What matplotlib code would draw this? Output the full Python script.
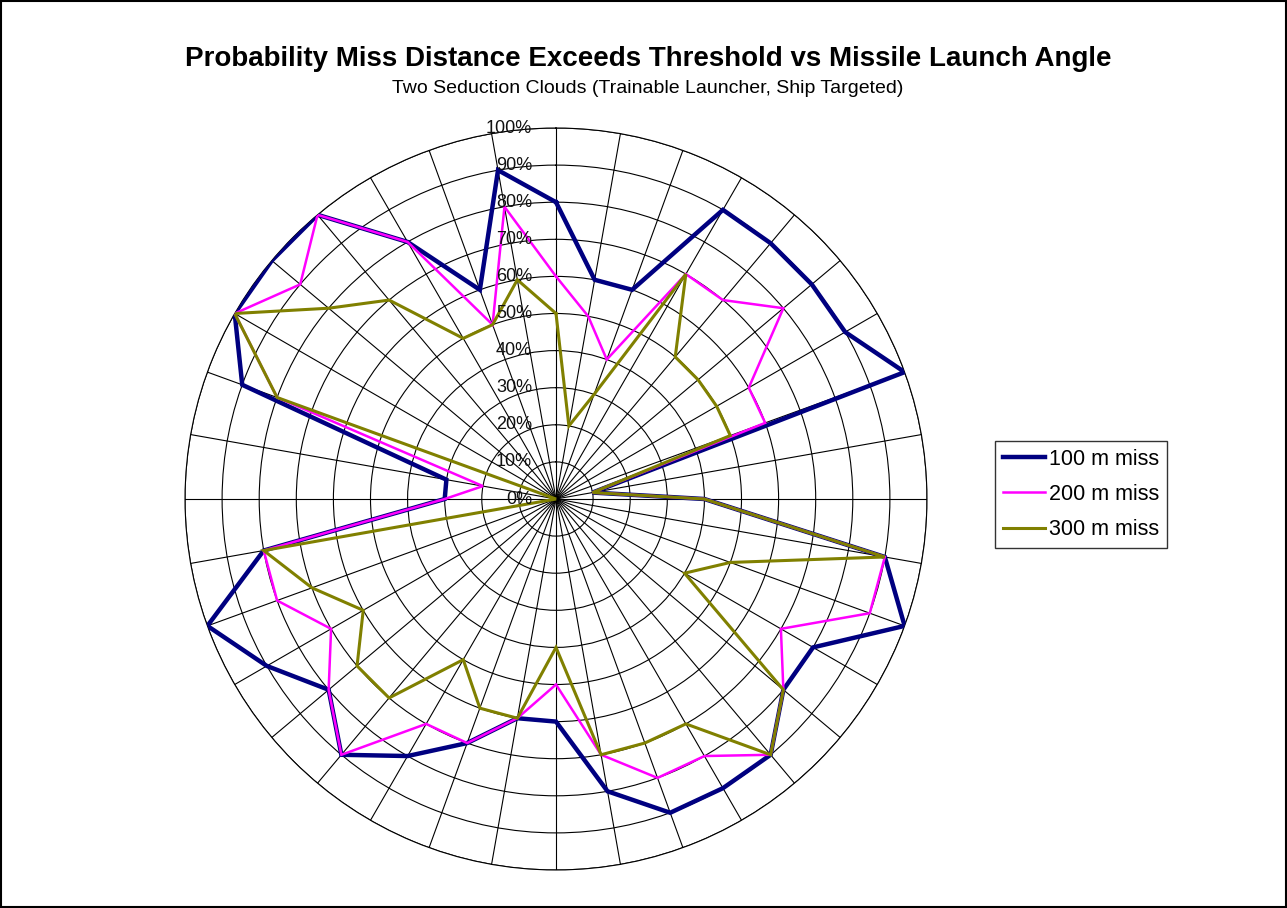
import numpy as np
import matplotlib
matplotlib.use("Agg")
import matplotlib.pyplot as plt
from matplotlib.patches import Rectangle

plt.rcParams['font.family'] = ['Liberation Sans', 'DejaVu Sans']

# launch angle in degrees, clockwise from the bow
angles_deg = list(range(0, 360, 10))

miss_100 = [0.8, 0.6, 0.6, 0.9, 0.9, 0.9, 0.9, 1.0, 0.1, 0.4, 0.9, 1.0,
            0.8, 0.8, 0.9, 0.9, 0.9, 0.8, 0.6, 0.6, 0.7, 0.8, 0.9, 0.8,
            0.9, 1.0, 0.8, 0.3, 0.3, 0.9, 1.0, 1.0, 1.0, 0.8, 0.6, 0.9]
miss_200 = [0.6, 0.5, 0.4, 0.7, 0.7, 0.8, 0.6, 0.6, 0.1, 0.4, 0.9, 0.9,
            0.7, 0.8, 0.9, 0.8, 0.8, 0.7, 0.5, 0.6, 0.7, 0.7, 0.9, 0.8,
            0.7, 0.8, 0.8, 0.3, 0.2, 0.8, 1.0, 0.9, 1.0, 0.8, 0.5, 0.8]
miss_300 = [0.5, 0.2, 0.3, 0.7, 0.5, 0.5, 0.5, 0.5, 0.1, 0.4, 0.9, 0.5,
            0.4, 0.8, 0.9, 0.7, 0.7, 0.7, 0.4, 0.6, 0.6, 0.5, 0.7, 0.7,
            0.6, 0.7, 0.8, 0.0, 0.0, 0.8, 1.0, 0.8, 0.7, 0.5, 0.5, 0.6]

series_labels = ["100 m miss", "200 m miss", "300 m miss"]
series_colors = ["#000080", "#FF00FF", "#808000"]
series_widths = [3.2, 1.8, 2.2]

ring_values = [i / 10 for i in range(11)]
ring_labels = [f"{i * 10}%" for i in range(11)]

fig = plt.figure(figsize=(12.87, 9.08), dpi=100)
ax = fig.add_axes([185 / 1287, 38 / 908, 742 / 1287, 742 / 908], projection='polar')
ax.set_theta_zero_location('N')
ax.set_theta_direction(-1)

theta = np.deg2rad(angles_deg + [angles_deg[0]])
lines = []
for vals, lab, col, lw in zip([miss_100, miss_200, miss_300], series_labels,
                              series_colors, series_widths):
    ln, = ax.plot(theta, vals + [vals[0]], color=col, lw=lw, label=lab,
                  solid_joinstyle='miter', zorder=3)
    lines.append(ln)

ax.set_ylim(0, 1)
ax.set_yticks(ring_values[1:])
ax.set_yticklabels([])
ax.set_xticks(np.deg2rad(angles_deg))
ax.set_xticklabels([])
ax.grid(True, color='black', lw=0.8)
ax.spines['polar'].set_color('black')
ax.spines['polar'].set_linewidth(0.8)
ax.tick_params(length=0, pad=0)

# percentage labels along the 0 degree spoke
for v, lab in zip(ring_values, ring_labels):
    ax.annotate(lab, xy=(0, v), xytext=(-24, 0), textcoords='offset pixels',
                ha='right', va='center', fontsize=13, color='#111111', zorder=4)

fig.text(0.5035, 0.9355, "Probability Miss Distance Exceeds Threshold vs Missile Launch Angle",
         ha='center', va='center', fontsize=20, fontweight='bold')
fig.text(0.5035, 0.9025, "Two Seduction Clouds (Trainable Launcher, Ship Targeted)",
         ha='center', va='center', fontsize=14)

leg = fig.legend(handles=lines, loc='center left',
                 bbox_to_anchor=(995 / 1287, 1 - 494.5 / 908),
                 frameon=True, fancybox=False, fontsize=15.5,
                 handlelength=1.95, handletextpad=0.2, labelspacing=0.66,
                 borderpad=0.35, borderaxespad=0)
leg.get_frame().set_edgecolor('black')
leg.get_frame().set_linewidth(1.0)

fig.patches.append(Rectangle((0.001, 0.001), 0.998, 0.998, transform=fig.transFigure,
                             fill=False, edgecolor='black', lw=1.5))

fig.savefig("out.png", dpi=100, facecolor='white')
